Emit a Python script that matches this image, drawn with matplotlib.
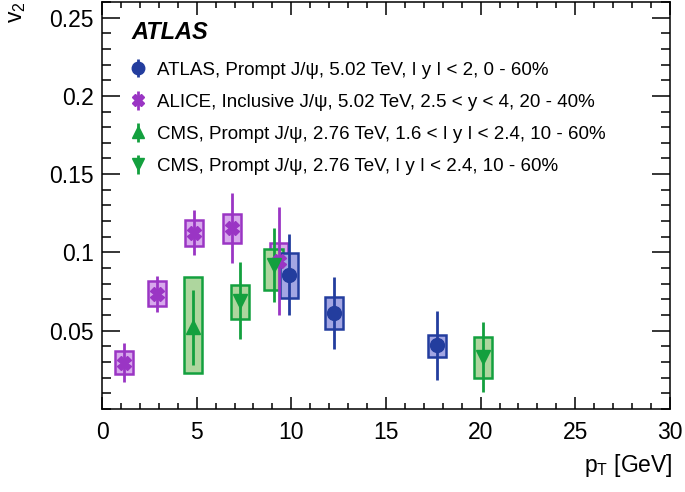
import matplotlib.pyplot as plt
from matplotlib.patches import Rectangle
from matplotlib.ticker import MultipleLocator

plt.rcParams['font.family'] = ['Liberation Sans', 'DejaVu Sans']

# ATLAS, prompt J/psi, 5.02 TeV
atlas_pt = [9.88, 12.25, 17.7]
atlas_v2 = [0.0857, 0.0612, 0.0405]
atlas_stat = [0.026, 0.023, 0.022]
atlas_syst_lo = [0.0711, 0.0508, 0.0332]
atlas_syst_hi = [0.0997, 0.0713, 0.0470]

# ALICE, inclusive J/psi, 5.02 TeV
alice_pt = [1.18, 2.9, 4.87, 6.87, 9.36]
alice_v2 = [0.0296, 0.0732, 0.1126, 0.1154, 0.0946]
alice_stat = [0.0127, 0.0116, 0.0146, 0.0225, 0.0347]
alice_syst_lo = [0.022, 0.0656, 0.1043, 0.1062, 0.083]
alice_syst_hi = [0.037, 0.0815, 0.1204, 0.1244, 0.1058]

# CMS, 1.6 < |y| < 2.4
cmsf_pt = [4.81]
cmsf_v2 = [0.052]
cmsf_stat = [0.0238]
cmsf_syst_lo = [0.0227]
cmsf_syst_hi = [0.0844]

# CMS, |y| < 2.4
cms_pt = [7.29, 9.06, 20.11]
cms_v2 = [0.0692, 0.092, 0.0332]
cms_stat = [0.0246, 0.0237, 0.0225]
cms_syst_lo = [0.0576, 0.0762, 0.0195]
cms_syst_hi = [0.0794, 0.1024, 0.0459]

fig = plt.figure(figsize=(6.85, 4.92), dpi=100)
ax = fig.add_axes([0.149, 0.169, 0.829, 0.827])


def draw_series(pt, v2, stat, lo, hi, color, fill, marker, ms):
    for x, l, h in zip(pt, lo, hi):
        ax.add_patch(Rectangle((x - 0.48, l), 0.96, h - l, facecolor=fill,
                               edgecolor=color, linewidth=1.8, zorder=2))
    ax.errorbar(pt, v2, yerr=stat, fmt=marker, color=color, ms=ms,
                elinewidth=2, capsize=0, zorder=3)


draw_series(alice_pt, alice_v2, alice_stat, alice_syst_lo, alice_syst_hi,
            '#9a35c4', '#d7a8ec', 'X', 10)
draw_series(cmsf_pt, cmsf_v2, cmsf_stat, cmsf_syst_lo, cmsf_syst_hi,
            '#13a03e', '#aed69e', '^', 10)
draw_series(cms_pt, cms_v2, cms_stat, cms_syst_lo, cms_syst_hi,
            '#13a03e', '#aed69e', 'v', 10)
draw_series(atlas_pt, atlas_v2, atlas_stat, atlas_syst_lo, atlas_syst_hi,
            '#233d9e', '#a3a6e3', 'o', 10)

# legend in the ROOT style: marker with a short stat bar, no frame
leg = [
    ('o', '#233d9e', 'ATLAS, Prompt J/ψ, 5.02 TeV, ǀ y ǀ < 2, 0 - 60%'),
    ('X', '#9a35c4', 'ALICE, Inclusive J/ψ, 5.02 TeV, 2.5 < y < 4, 20 - 40%'),
    ('^', '#13a03e', 'CMS, Prompt J/ψ, 2.76 TeV, 1.6 < ǀ y ǀ < 2.4, 10 - 60%'),
    ('v', '#13a03e', 'CMS, Prompt J/ψ, 2.76 TeV, ǀ y ǀ < 2.4, 10 - 60%'),
]
handles = [ax.errorbar([], [], yerr=[], fmt=m, color=c, ms=9, elinewidth=2)
           for m, c, _ in leg]
ax.legend(handles, [t for _, _, t in leg], loc='upper left',
          bbox_to_anchor=(0.035, 0.872), frameon=False, fontsize=13.5,
          handlelength=0.9, handletextpad=0.55, labelspacing=0.8,
          borderaxespad=0)

ax.text(0.052, 0.926, 'ATLAS', transform=ax.transAxes, fontsize=17,
        fontweight='bold', fontstyle='italic', va='center')

ax.set_xlim(0, 30)
ax.set_ylim(0, 0.26)
ax.xaxis.set_major_locator(MultipleLocator(5))
ax.xaxis.set_minor_locator(MultipleLocator(1))
ax.yaxis.set_minor_locator(MultipleLocator(0.01))
ax.set_yticks([0.05, 0.1, 0.15, 0.2, 0.25])
ax.set_yticklabels(['0.05', '0.1', '0.15', '0.2', '0.25'])
ax.tick_params(which='both', direction='in', top=True, right=True,
               labelsize=16.5, width=1.1)
ax.tick_params(axis='x', which='major', length=9, pad=9)
ax.tick_params(axis='x', which='minor', length=4.5)
ax.tick_params(axis='y', which='major', length=13, pad=6)
ax.tick_params(axis='y', which='minor', length=6.5)
for s in ax.spines.values():
    s.set_linewidth(1.1)

fig.text(0.982, 0.04, 'p$_\\mathregular{T}$ [GeV]', ha='right', fontsize=16.5)
fig.text(0.008, 0.998, 'v$_\\mathregular{2}$', rotation=90, ha='left', va='top',
         fontsize=16.5)

fig.savefig('out.png', dpi=100)
